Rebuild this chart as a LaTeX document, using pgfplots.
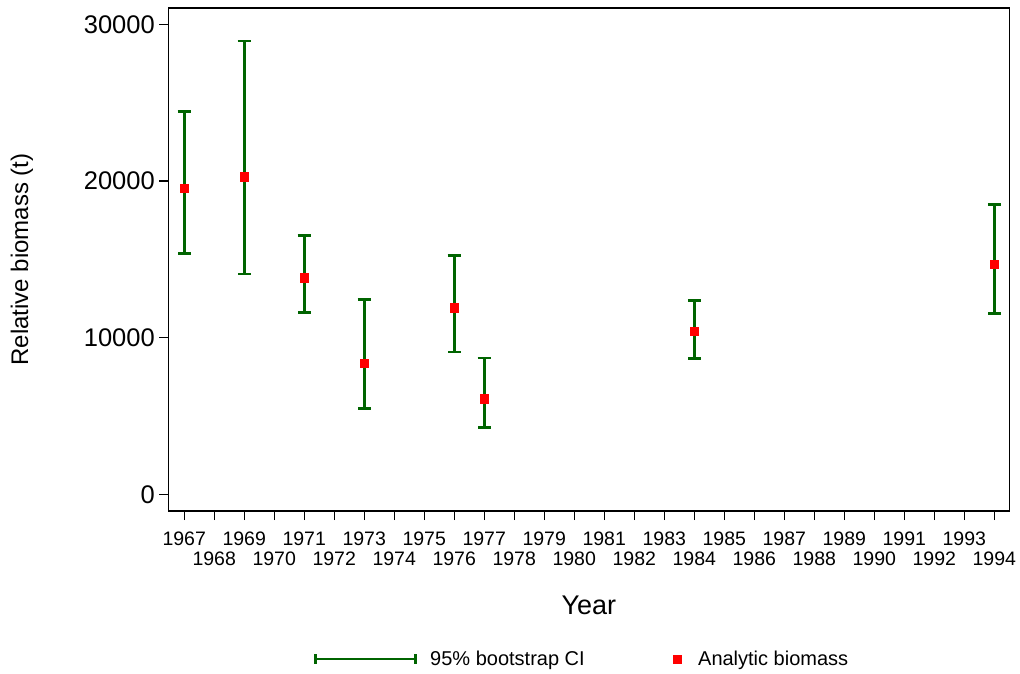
\documentclass[border=0pt]{standalone}
\usepackage{fontspec}
\setmainfont{Liberation Sans}
\usepackage{pgfplots}
\usepackage{pgfplotstable}
\pgfplotsset{compat=1.18}
\definecolor{cigreen}{RGB}{0,100,0}
\pgfplotstableread{
year mid lo hi
1967 19530 15380 24420
1969 20270 14060 28935
1971 13830 11620 16530
1973 8360 5490 12420
1976 11910 9080 15230
1977 6100 4250 8700
1984 10400 8655 12360
1994 14700 11550 18510
}\datatab
\begin{document}
\begin{tikzpicture}
\useasboundingbox (0,0) rectangle (1020pt,-673pt);
\begin{axis}[
  at={(168.3pt,-511pt)}, anchor=south west,
  scale only axis, width=841pt, height=503pt,
  xmin=1966.47, xmax=1994.5, ymin=-1066, ymax=31040,
  /pgf/number format/assume math mode=true,
  axis line style={black, line width=1.4pt},
  tick style={black, line width=1.1pt},
  tick align=outside, major tick length=9pt,
  xtick pos=bottom, ytick pos=left,
  xtick={1967,1969,...,1993},
  extra x ticks={1968,1970,...,1994},
  extra x tick style={xticklabel style={yshift=-20pt}},
  ytick={0,10000,20000,30000},
  scaled y ticks=false,
  xticklabel style={font=\fontsize{19.5}{22}\selectfont, /pgf/number format/1000 sep={}, yshift=-8pt},
  yticklabel style={font=\fontsize{25.5}{28}\selectfont, /pgf/number format/1000 sep={}, xshift=-1pt},
  xlabel={Year},
  ylabel={Relative biomass (t)},
  xlabel style={font=\fontsize{27}{30}\selectfont, at={(axis description cs:0.5,-0.187)}, anchor=center},
  ylabel style={font=\fontsize{24}{27}\selectfont, at={(axis description cs:-0.174,0.5)}, anchor=center},
  legend columns=2,
  legend style={draw=none, fill=none, font=\fontsize{20}{22}\selectfont,
    at={(axis description cs:0.492,-0.294)}, anchor=center,
    /tikz/every even column/.append style={column sep=86pt}},
  legend cell align=left,
]
\addplot[draw=none, mark=none,
  legend image code/.code={\draw[cigreen, line width=2.6pt] (0pt,-5pt) -- (0pt,5pt) (0pt,0pt) -- (100pt,0pt) (100pt,-5pt) -- (100pt,5pt); \path (113pt,0pt);},
  error bars/.cd, y dir=both, y explicit,
  error bar style={cigreen, line width=2.6pt},
  error mark options={cigreen, rotate=90, mark size=6.5pt, line width=2.6pt}
] table[x=year, y=mid, y error plus expr=\thisrow{hi}-\thisrow{mid}, y error minus expr=\thisrow{mid}-\thisrow{lo}] {\datatab};
\addlegendentry{95\% bootstrap CI}
\addplot[only marks, mark=square*, mark size=4.3pt, color=red,
  legend image code/.code={\draw[red, fill=red] (-4pt,-4pt) rectangle (4pt,4pt); \path (19pt,0pt);}
] table[x=year, y=mid] {\datatab};
\addlegendentry{Analytic biomass}
\end{axis}
\end{tikzpicture}
\end{document}
